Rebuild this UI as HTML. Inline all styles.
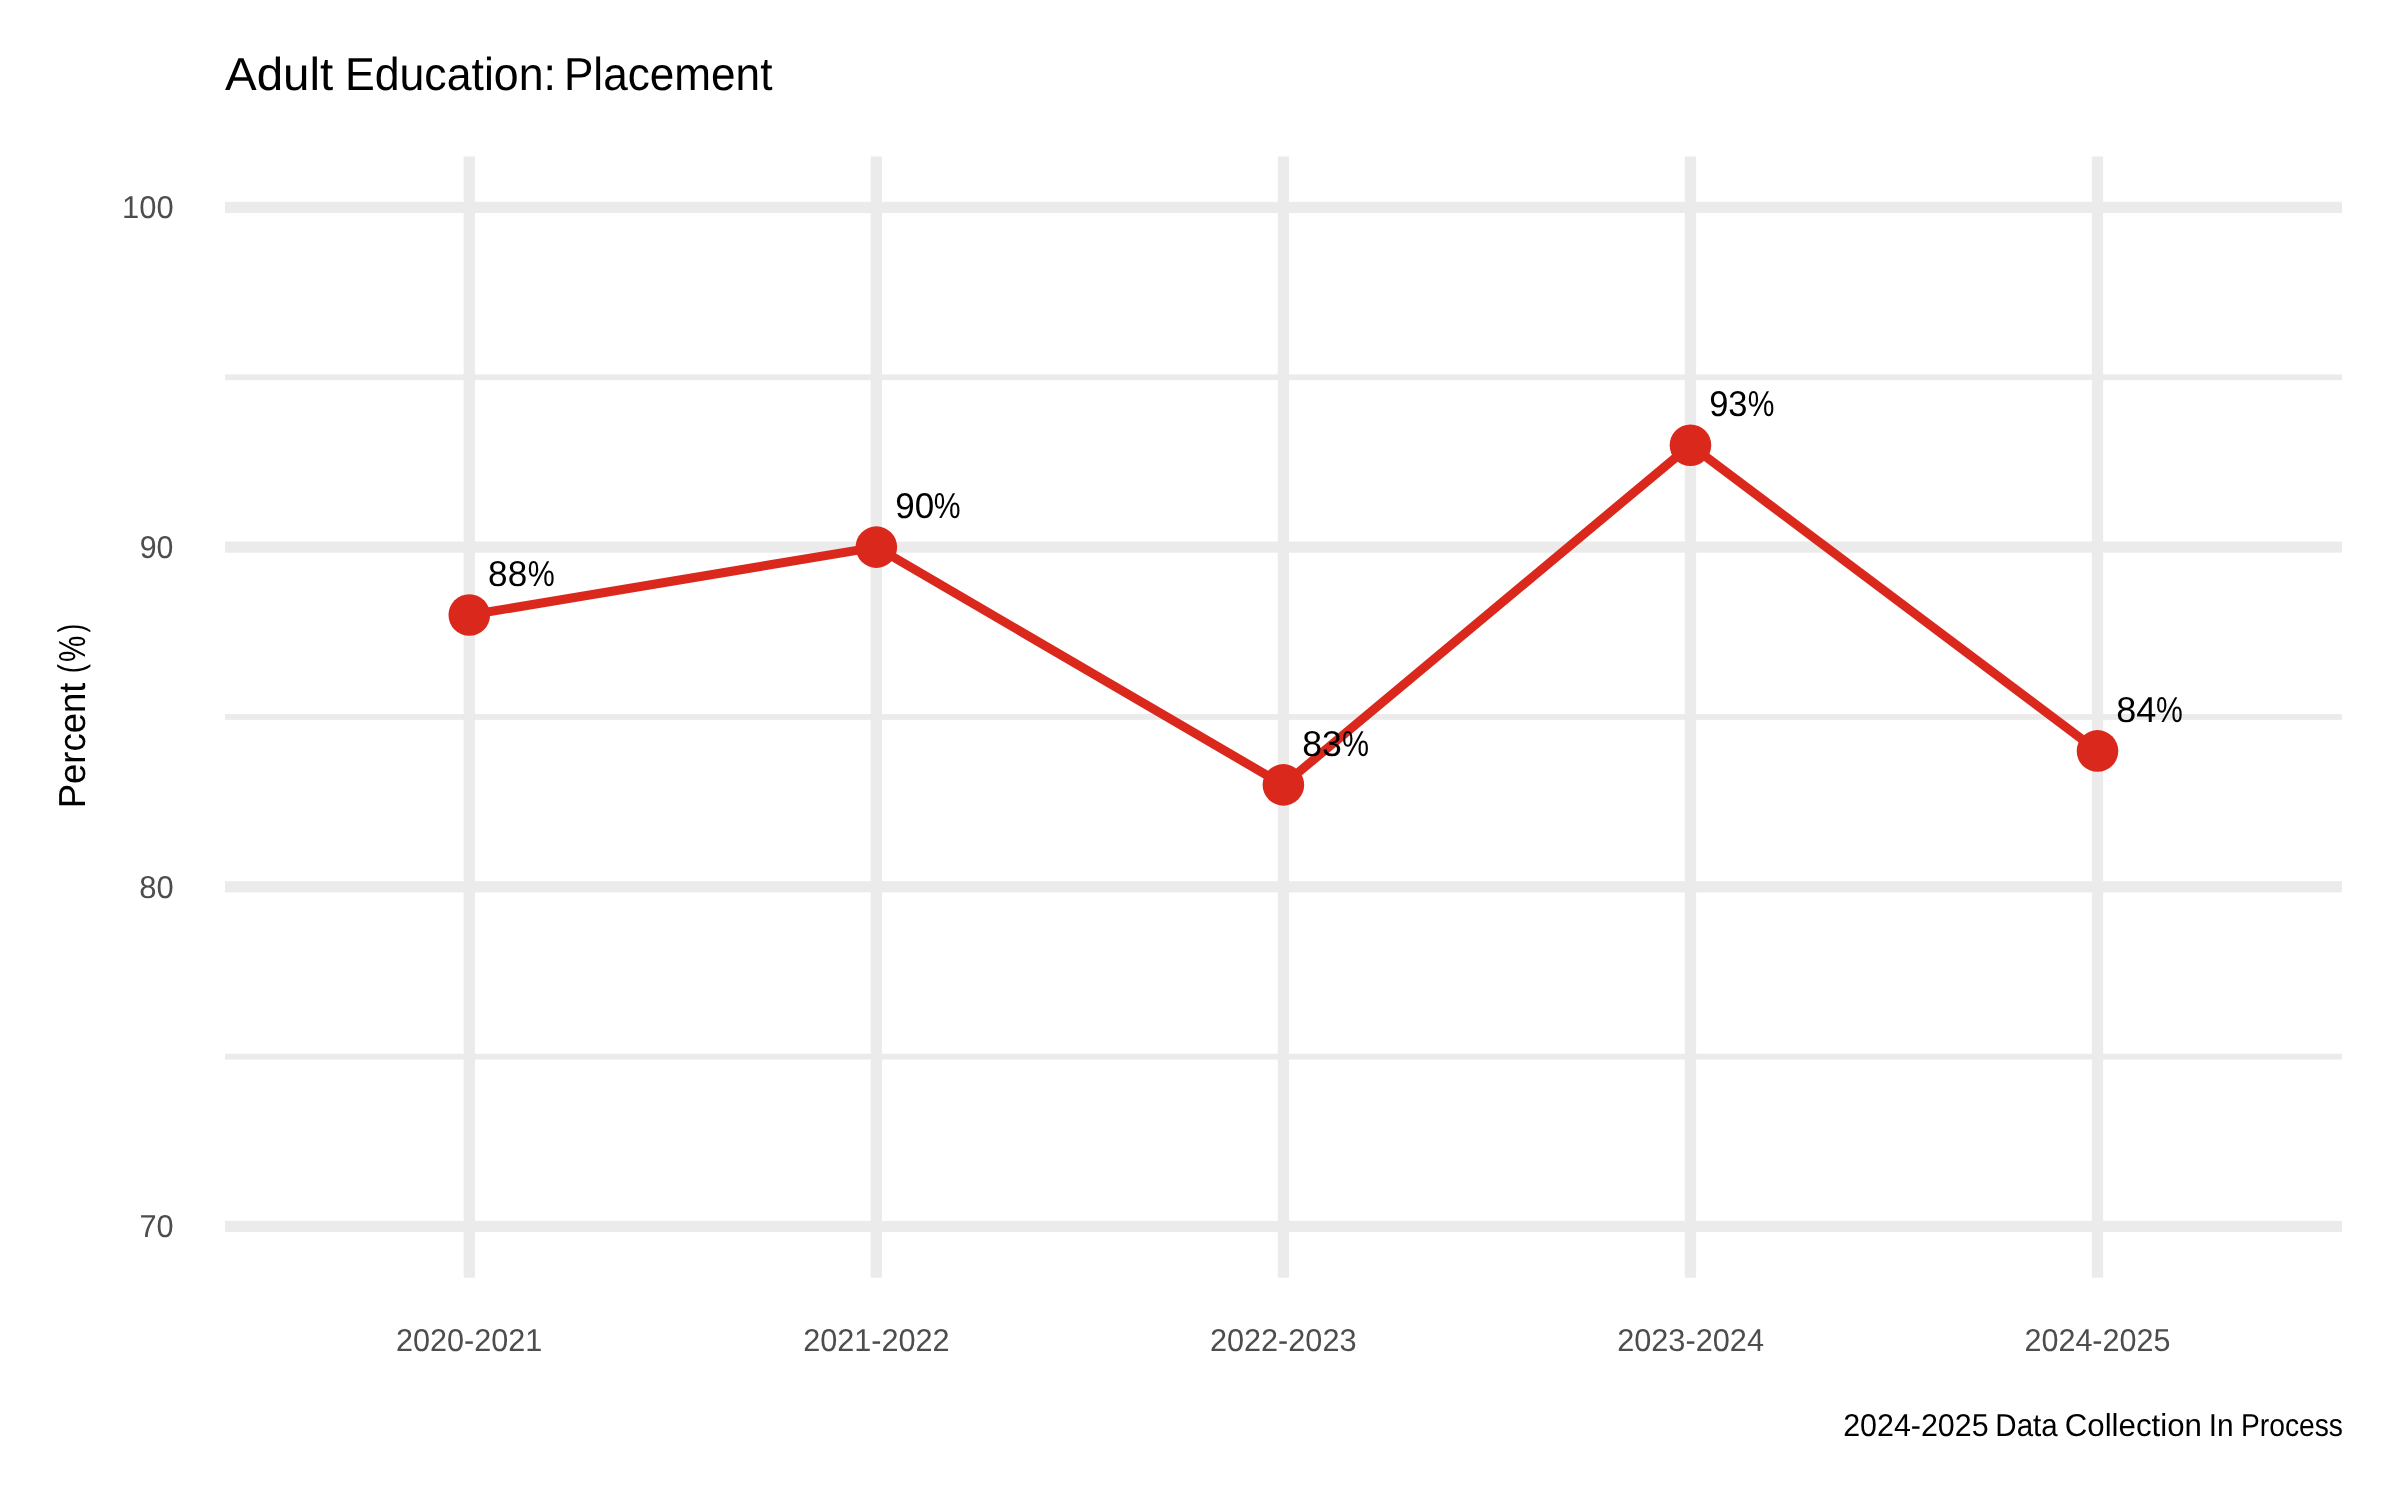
<!DOCTYPE html>
<html><head><meta charset="utf-8">
<title>Adult Education: Placement</title>
<style>
html,body{margin:0;padding:0;background:#fff;}
body{width:2400px;height:1500px;overflow:hidden;}
svg{display:block;will-change:transform;}
text{text-rendering:geometricPrecision;font-family:"Liberation Sans",sans-serif;}
</style></head><body>
<svg width="2400" height="1500" viewBox="0 0 2400 1500">
<rect width="2400" height="1500" fill="#ffffff"/>
<g fill="#EBEBEB">
<rect x="225" y="374.35" width="2117" height="5.8"/>
<rect x="225" y="714.05" width="2117" height="5.8"/>
<rect x="225" y="1053.75" width="2117" height="5.8"/>
<rect x="225" y="201.8" width="2117" height="11.2"/>
<rect x="225" y="541.5" width="2117" height="11.2"/>
<rect x="225" y="881.2" width="2117" height="11.2"/>
<rect x="225" y="1220.9" width="2117" height="11.2"/>
<rect x="463.65" y="156.5" width="11.3" height="1121.2"/>
<rect x="870.7" y="156.5" width="11.3" height="1121.2"/>
<rect x="1277.75" y="156.5" width="11.3" height="1121.2"/>
<rect x="1684.8" y="156.5" width="11.3" height="1121.2"/>
<rect x="2091.85" y="156.5" width="11.3" height="1121.2"/>
</g>
<polyline points="469.3,615.04 876.35,547.1 1283.4,784.89 1690.45,445.19 2097.5,750.92" fill="none" stroke="#DA291C" stroke-width="9" stroke-linejoin="round"/>
<g fill="#DA291C">
<circle cx="469.3" cy="615.04" r="20.8"/>
<circle cx="876.35" cy="547.1" r="20.8"/>
<circle cx="1283.4" cy="784.89" r="20.8"/>
<circle cx="1690.45" cy="445.19" r="20.8"/>
<circle cx="2097.5" cy="750.92" r="20.8"/>
</g>
<text x="224.95" y="90.2" font-size="46.3" fill="#000" textLength="108.31" lengthAdjust="spacingAndGlyphs">Adult</text>
<text x="344.91" y="90.2" font-size="46.3" fill="#000" textLength="211.02" lengthAdjust="spacingAndGlyphs">Education:</text>
<text x="563.94" y="90.2" font-size="46.3" fill="#000" textLength="208.48" lengthAdjust="spacingAndGlyphs">Placement</text>
<text x="1843.14" y="1436" font-size="31.7" fill="#000" textLength="145.51" lengthAdjust="spacingAndGlyphs">2024-2025</text>
<text x="1995.34" y="1436" font-size="31.7" fill="#000" textLength="62.36" lengthAdjust="spacingAndGlyphs">Data</text>
<text x="2064.71" y="1436" font-size="31.7" fill="#000" textLength="137.19" lengthAdjust="spacingAndGlyphs">Collection</text>
<text x="2208.81" y="1436" font-size="31.7" fill="#000" textLength="24.92" lengthAdjust="spacingAndGlyphs">In</text>
<text x="2241.02" y="1436" font-size="31.7" fill="#000" textLength="101.93" lengthAdjust="spacingAndGlyphs">Process</text>
<text x="122.05" y="218" font-size="31.7" fill="#4D4D4D" textLength="51.56" lengthAdjust="spacingAndGlyphs">100</text>
<text x="139.74" y="557.7" font-size="31.7" fill="#4D4D4D" textLength="33.75" lengthAdjust="spacingAndGlyphs">90</text>
<text x="139.22" y="897.5" font-size="31.7" fill="#4D4D4D" textLength="34.38" lengthAdjust="spacingAndGlyphs">80</text>
<text x="139.43" y="1237.25" font-size="31.7" fill="#4D4D4D" textLength="34.17" lengthAdjust="spacingAndGlyphs">70</text>
<text x="395.99" y="1351.4" font-size="31.7" fill="#4D4D4D" textLength="146.17" lengthAdjust="spacingAndGlyphs">2020-2021</text>
<text x="803.13" y="1351.4" font-size="31.7" fill="#4D4D4D" textLength="146.52" lengthAdjust="spacingAndGlyphs">2021-2022</text>
<text x="1209.98" y="1351.4" font-size="31.7" fill="#4D4D4D" textLength="146.52" lengthAdjust="spacingAndGlyphs">2022-2023</text>
<text x="1617.13" y="1351.4" font-size="31.7" fill="#4D4D4D" textLength="146.87" lengthAdjust="spacingAndGlyphs">2023-2024</text>
<text x="2024.49" y="1351.4" font-size="31.7" fill="#4D4D4D" textLength="145.91" lengthAdjust="spacingAndGlyphs">2024-2025</text>
<text x="488.12" y="585.6" font-size="35.9" fill="#000" textLength="39.12" lengthAdjust="spacingAndGlyphs">88</text>
<text x="527.81" y="585.6" font-size="35.9" fill="#000" textLength="27.01" lengthAdjust="spacingAndGlyphs">%</text>
<text x="895.23" y="517.6" font-size="35.9" fill="#000" textLength="38.91" lengthAdjust="spacingAndGlyphs">90</text>
<text x="933.86" y="517.6" font-size="35.9" fill="#000" textLength="26.81" lengthAdjust="spacingAndGlyphs">%</text>
<text x="1302.21" y="755.6" font-size="35.9" fill="#000" textLength="39.65" lengthAdjust="spacingAndGlyphs">83</text>
<text x="1341.95" y="755.6" font-size="35.9" fill="#000" textLength="27.02" lengthAdjust="spacingAndGlyphs">%</text>
<text x="1709.14" y="415.7" font-size="35.9" fill="#000" textLength="38.33" lengthAdjust="spacingAndGlyphs">93</text>
<text x="1747.86" y="415.7" font-size="35.9" fill="#000" textLength="26.7" lengthAdjust="spacingAndGlyphs">%</text>
<text x="2116.2" y="721.7" font-size="35.9" fill="#000" textLength="40.07" lengthAdjust="spacingAndGlyphs">84</text>
<text x="2155.96" y="721.7" font-size="35.9" fill="#000" textLength="26.81" lengthAdjust="spacingAndGlyphs">%</text>
<text transform="translate(85.4,808.21) rotate(-90)" font-size="37.6" fill="#000" textLength="125.57" lengthAdjust="spacingAndGlyphs">Percent</text>
<text transform="translate(82.6,673.14) rotate(-90)" font-size="35.6" fill="#000" textLength="9.12" lengthAdjust="spacingAndGlyphs">(</text>
<text transform="translate(85.4,661.89) rotate(-90)" font-size="37.6" fill="#000" textLength="26.31" lengthAdjust="spacingAndGlyphs">%</text>
<text transform="translate(82.6,632.4) rotate(-90)" font-size="35.6" fill="#000" textLength="8.65" lengthAdjust="spacingAndGlyphs">)</text>
</svg>
</body></html>
